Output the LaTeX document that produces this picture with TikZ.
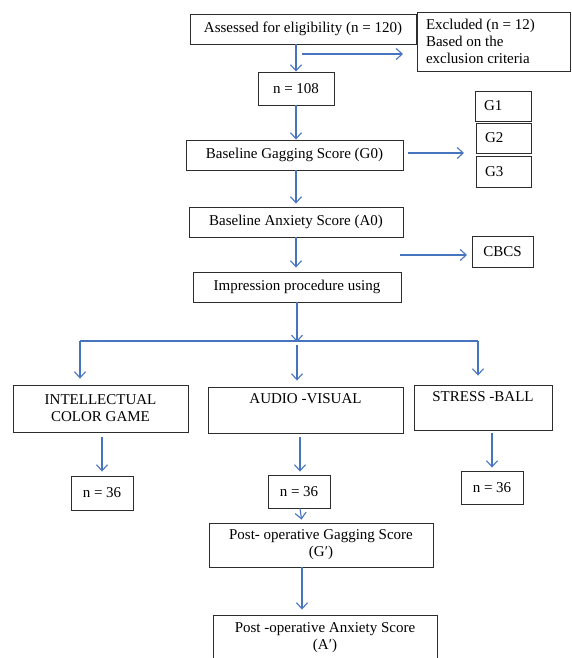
\documentclass[tikz,border=0pt]{standalone}
\usepackage{fontspec}
\setmainfont{Liberation Serif}
\usetikzlibrary{arrows.meta}
\definecolor{arrblue}{RGB}{70,116,190}
\definecolor{boxline}{RGB}{45,45,45}
\tikzset{
  box/.style={draw=boxline, line width=0.9pt, rectangle, inner sep=0pt, align=center,
    font=\fontsize{15}{17}\selectfont},
  lbox/.style={box, align=flush left},
  arr/.style={draw=arrblue, line width=1.1pt, -{Straight Barb[length=6pt,width=11pt,line width=1.1pt]}},
  ln/.style={draw=arrblue, line width=1.1pt}
}
\begin{document}
\begin{tikzpicture}[x=1pt,y=-1pt]
\useasboundingbox (0,0) rectangle (571,658);
\clip (0,0) rectangle (571,658);
% boxes
\node[box, minimum width=226pt, minimum height=30pt] (assess) at (303,29) {Assessed for eligibility (n = 120)};
\node[lbox, minimum width=153pt, minimum height=59pt, text width=135pt] (excl) at (493.5,41.5) {Excluded (n = 12)\\Based on the\\exclusion criteria};
\node[box, minimum width=76pt, minimum height=33pt] (n108) at (296,88.5) {n = 108};
\node[lbox, minimum width=56pt, minimum height=30pt, text width=38pt] (g1) at (503,106) {G1};
\node[lbox, minimum width=55pt, minimum height=30pt, text width=37pt] (g2) at (503.5,138) {G2};
\node[lbox, minimum width=55pt, minimum height=31pt, text width=37pt] (g3) at (503.5,171.5) {G3};
\node[box, minimum width=217pt, minimum height=30pt] (g0) at (294.5,155) {Baseline Gagging Score (G0)};
\node[box, minimum width=214pt, minimum height=30pt] (a0) at (296,222) {Baseline Anxiety Score (A0)};
\node[box, minimum width=61pt, minimum height=31pt] (cbcs) at (502.5,251.5) {CBCS};
\node[box, minimum width=208pt, minimum height=30pt] (imp) at (297,287) {Impression procedure using};
\node[box, minimum width=175pt, minimum height=47pt] (ic) at (100.5,408.5) {INTELLECTUAL\\COLOR GAME};
\node[box, minimum width=195pt, minimum height=46pt] (av) at (305.5,410) {AUDIO -VISUAL\\\strut};
\node[box, minimum width=138pt, minimum height=45pt] (sb) at (483,407.5) {STRESS -BALL\\\strut};
\node[box, minimum width=62pt, minimum height=34pt] (nl) at (102,493) {n = 36};
\node[box, minimum width=62pt, minimum height=33pt] (nm) at (299,491.5) {n = 36};
\node[box, minimum width=62pt, minimum height=33pt] (nr) at (492,487.5) {n = 36};
\node[box, minimum width=224pt, minimum height=44pt] (pg) at (321,545) {Post- operative Gagging Score\\(G′)};
\node[box, minimum width=224pt, minimum height=46pt] (pa) at (325,638) {Post -operative Anxiety Score\\(A′)};
% free coordinates
\coordinate (e1) at (302,54);
\coordinate (e2) at (403,54);
\coordinate (g0a) at (408,153);
\coordinate (g0b) at (464,153);
\coordinate (a0a) at (400,255);
\coordinate (a0b) at (467,255);
\coordinate (split) at (297,341);
\coordinate (splitL) at (80,341);
\coordinate (splitR) at (478,341);
% connectors
\draw[arr] (n108.north |- assess.south) -- (n108.north);
\draw[arr] (e1) -- (e2);
\draw[arr] (n108.south) -- (n108.south |- g0.north);
\draw[arr] (g0a) -- (g0b);
\draw[arr, shorten >=3pt] (n108.south |- g0.south) -- (n108.south |- a0.north);
\draw[arr, shorten >=4pt] (n108.south |- a0.south) -- (n108.south |- imp.north);
\draw[arr] (a0a) -- (a0b);
\draw[arr] (imp.south) -- ([yshift=-1pt]split);
\draw[ln] (splitL) -- (splitR);
\draw[arr, shorten >=6pt] (splitL) -- (splitL |- ic.north);
\draw[arr, shorten >=9pt] (splitR) -- (splitR |- sb.north);
\draw[arr, shorten <=4pt, shorten >=6pt] (split) -- (split |- av.north);
\draw[arr, shorten <=5pt, shorten >=4pt] (nl.north |- ic.south) -- (nl.north);
\draw[arr, shorten <=4pt, shorten >=3pt] (300,0 |- av.south) -- (300,0 |- nm.north);
\draw[arr, shorten <=3pt, shorten >=3pt] (sb.south -| nr.north) -- (nr.north);
\draw[arr, shorten >=3pt] (300,0 |- nm.south) -- (302,0 |- pg.north);
\draw[arr, shorten >=5pt] (302,0 |- pg.south) -- (302,0 |- pa.north);
\end{tikzpicture}
\end{document}
